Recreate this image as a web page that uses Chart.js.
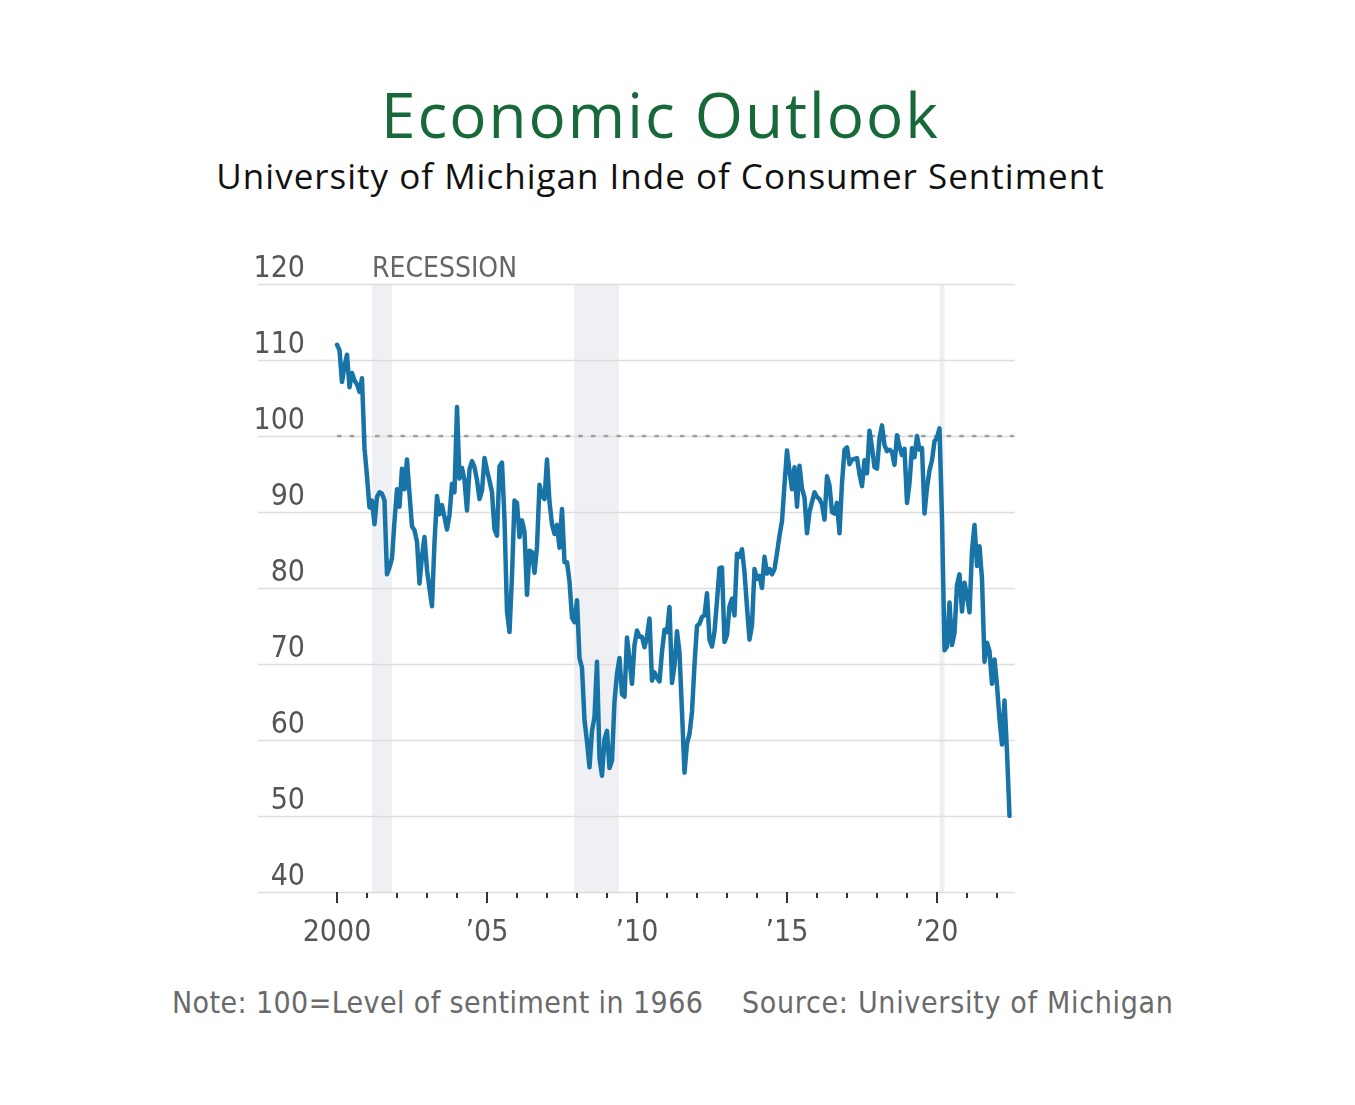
<!DOCTYPE html>
<html>
<head>
<meta charset="utf-8">
<script src="https://cdn.jsdelivr.net/npm/chart.js@4"></script>
<style>
  html, body { margin: 0; padding: 0; background: #fff; }
  body { width: 1355px; height: 1105px; position: relative; overflow: hidden; }
  .title { position: absolute; left: -17px; width: 1355px; text-align: center; font-family: "Open Sans", sans-serif; }
  #title { top: 72px; font-size: 62px; letter-spacing: 2px; color: #17693a; font-weight: 400; }
  #subtitle { top: 152px; font-size: 35px; letter-spacing: 1px; color: #111; }
  .note { position: absolute; top: 985px; font-family: "DejaVu Sans Condensed", "DejaVu Sans", sans-serif; font-size: 30px; letter-spacing: 0.4px; color: #6a6a6a; }
  #chart { position: absolute; left: 0; top: 230px; }
</style>
</head>
<body>
<div class="title" id="title">Economic Outlook</div>
<div class="title" id="subtitle">University of Michigan Inde of Consumer Sentiment</div>
<canvas id="chart" width="1355" height="730"></canvas>
<div class="note" style="left:172px">Note: 100=Level of sentiment in 1966</div>
<div class="note" style="left:742px; letter-spacing: 0.7px">Source: University of Michigan</div>

<script>
// Monthly index values, Jan 2000 onwards
const startYear = 2000;
const sentiment = [
    // 2000
    112.0, 111.3, 107.1, 109.2, 110.7, 106.4, 108.3, 107.3, 106.8, 105.8, 107.6, 98.4,
    // 2001
    94.7, 90.6, 91.5, 88.4, 92.0, 92.6, 92.4, 91.5, 81.8, 82.7, 83.9, 88.8,
    // 2002
    93.0, 90.7, 95.7, 93.0, 96.9, 92.4, 88.1, 87.6, 86.1, 80.6, 84.2, 86.7,
    // 2003
    82.4, 79.9, 77.6, 86.0, 92.1, 89.7, 90.9, 89.3, 87.7, 89.6, 93.7, 92.6,
    // 2004
    103.8, 94.4, 95.8, 94.2, 90.2, 95.6, 96.7, 95.9, 94.2, 91.7, 92.8, 97.1,
    // 2005
    95.5, 94.1, 92.6, 87.7, 86.9, 96.0, 96.5, 89.1, 76.9, 74.2, 81.6, 91.5,
    // 2006
    91.2, 86.7, 88.9, 87.4, 79.1, 84.9, 84.7, 82.0, 85.4, 93.6, 92.1, 91.7,
    // 2007
    96.9, 91.3, 88.4, 87.1, 88.3, 85.3, 90.4, 83.4, 83.4, 80.9, 76.1, 75.5,
    // 2008
    78.4, 70.8, 69.5, 62.6, 59.8, 56.4, 61.2, 63.0, 70.3, 57.6, 55.3, 60.1,
    // 2009
    61.2, 56.3, 57.3, 65.1, 68.7, 70.8, 66.0, 65.7, 73.5, 70.6, 67.4, 72.5,
    // 2010
    74.4, 73.6, 73.6, 72.2, 73.6, 76.0, 67.8, 68.9, 68.2, 67.7, 71.6, 74.5,
    // 2011
    74.2, 77.5, 67.5, 69.8, 74.3, 71.5, 63.7, 55.7, 59.5, 60.8, 63.7, 69.9,
    // 2012
    75.0, 75.3, 76.2, 76.4, 79.3, 73.2, 72.3, 74.3, 78.3, 82.6, 82.7, 72.9,
    // 2013
    73.8, 77.6, 78.6, 76.4, 84.5, 84.1, 85.1, 82.1, 77.5, 73.2, 75.1, 82.5,
    // 2014
    81.2, 81.6, 80.0, 84.1, 81.9, 82.5, 81.8, 82.5, 84.6, 86.9, 88.8, 93.6,
    // 2015
    98.1, 95.4, 93.0, 95.9, 90.7, 96.1, 93.1, 91.9, 87.2, 90.0, 91.3, 92.6,
    // 2016
    92.0, 91.7, 91.0, 89.0, 94.7, 93.5, 90.0, 89.8, 91.2, 87.2, 93.8, 98.2,
    // 2017
    98.5, 96.3, 96.9, 97.0, 97.1, 95.0, 93.4, 96.8, 95.1, 100.7, 98.5, 95.9,
    // 2018
    95.7, 99.7, 101.4, 98.8, 98.0, 98.2, 97.9, 96.2, 100.1, 98.6, 97.5, 98.3,
    // 2019
    91.2, 93.8, 98.4, 97.2, 100.0, 98.2, 98.4, 89.8, 93.2, 95.5, 96.8, 99.3,
    // 2020
    99.8, 101.0, 89.1, 71.8, 72.3, 78.1, 72.5, 74.1, 80.4, 81.8, 76.9, 80.7,
    // 2021
    79.0, 76.8, 84.9, 88.3, 82.9, 85.5, 81.2, 70.3, 72.8, 71.7, 67.4, 70.6,
    // 2022
    67.2, 62.8, 59.4, 65.2, 58.4, 50.0
];

// recession periods as [start, end] in fractional years
const recessions = [[2001.17, 2001.83], [2007.9, 2009.4], [2020.08, 2020.25]];

const yTicks = [40, 50, 60, 70, 80, 90, 100, 110, 120];
const xMajor = [2000, 2005, 2010, 2015, 2020];
const xLabels = ["2000", "\u201905", "\u201910", "\u201915", "\u201920"];
const xMinor = [2001, 2002, 2003, 2004, 2006, 2007, 2008, 2009, 2011, 2012, 2013, 2014,
                2016, 2017, 2018, 2019, 2021, 2022];
const baseline = 100;

const axisFont = '30px "DejaVu Sans Condensed", "DejaVu Sans", sans-serif';

const decor = {
    id: 'decor',
    beforeDatasetsDraw(chart) {
        const { ctx, chartArea: a, scales: { x, y } } = chart;
        ctx.save();
        // shaded recessions
        ctx.fillStyle = '#eef0f3';
        recessions.forEach(([s, e]) => {
            const x0 = x.getPixelForValue(s);
            const x1 = x.getPixelForValue(e);
            ctx.fillRect(x0, a.top, x1 - x0, a.bottom - a.top);
        });
        // horizontal grid
        ctx.strokeStyle = '#dddddd';
        ctx.lineWidth = 1.5;
        yTicks.forEach(v => {
            const py = Math.round(y.getPixelForValue(v)) + 0.5;
            ctx.beginPath();
            ctx.moveTo(a.left, py);
            ctx.lineTo(a.right, py);
            ctx.stroke();
        });
        // dotted reference at 100
        const py = y.getPixelForValue(baseline);
        ctx.setLineDash([2.5, 10.2]);
        ctx.lineCap = 'round';
        ctx.strokeStyle = '#a0a0a0';
        ctx.lineWidth = 2.5;
        ctx.beginPath();
        ctx.moveTo(x.getPixelForValue(startYear) + 1, py);
        ctx.lineTo(a.right - 2, py);
        ctx.stroke();
        ctx.restore();
    },
    afterDraw(chart) {
        const { ctx, chartArea: a, scales: { x, y } } = chart;
        ctx.save();
        ctx.font = axisFont;
        ctx.fillStyle = '#555555';
        // y labels sit above their gridline
        ctx.textAlign = 'right';
        ctx.textBaseline = 'alphabetic';
        yTicks.forEach(v => {
            ctx.fillText(String(v), 305, y.getPixelForValue(v) - 7);
        });
        ctx.textAlign = 'left';
        ctx.fillStyle = '#666666';
        ctx.font = '28px "DejaVu Sans Condensed", "DejaVu Sans", sans-serif';
        ctx.fillText('RECESSION', 372, y.getPixelForValue(120) - 7);
        ctx.font = axisFont;

        // x ticks
        ctx.strokeStyle = '#333333';
        ctx.lineWidth = 2;
        xMajor.forEach(v => {
            const px = Math.round(x.getPixelForValue(v));
            ctx.beginPath();
            ctx.moveTo(px, a.bottom);
            ctx.lineTo(px, a.bottom + 11);
            ctx.stroke();
        });
        xMinor.forEach(v => {
            const px = Math.round(x.getPixelForValue(v));
            ctx.beginPath();
            ctx.moveTo(px, a.bottom + 1);
            ctx.lineTo(px, a.bottom + 6);
            ctx.stroke();
        });
        // x labels
        ctx.fillStyle = '#555555';
        ctx.textAlign = 'center';
        xMajor.forEach((v, i) => {
            ctx.fillText(xLabels[i], x.getPixelForValue(v), a.bottom + 49);
        });
        ctx.restore();
    }
};

new Chart(document.getElementById('chart'), {
    type: 'line',
    data: {
        datasets: [{
            data: sentiment.map((v, i) => ({ x: startYear + i / 12, y: v })),
            borderColor: '#1874a6',
            borderWidth: 4.5,
            pointRadius: 0,
            tension: 0,
            borderJoinStyle: 'round',
            borderCapStyle: 'round',
        }]
    },
    options: {
        responsive: false,
        animation: false,
        devicePixelRatio: 1,
        layout: { padding: { left: 258, right: 340, top: 54, bottom: 68 } },
        plugins: {
            legend: { display: false },
            tooltip: { enabled: false },
        },
        scales: {
            x: { type: 'linear', min: 1997.367, max: 2022.6, display: false },
            y: { min: 40, max: 120, display: false },
        }
    },
    plugins: [decor]
});
</script>
</body>
</html>
